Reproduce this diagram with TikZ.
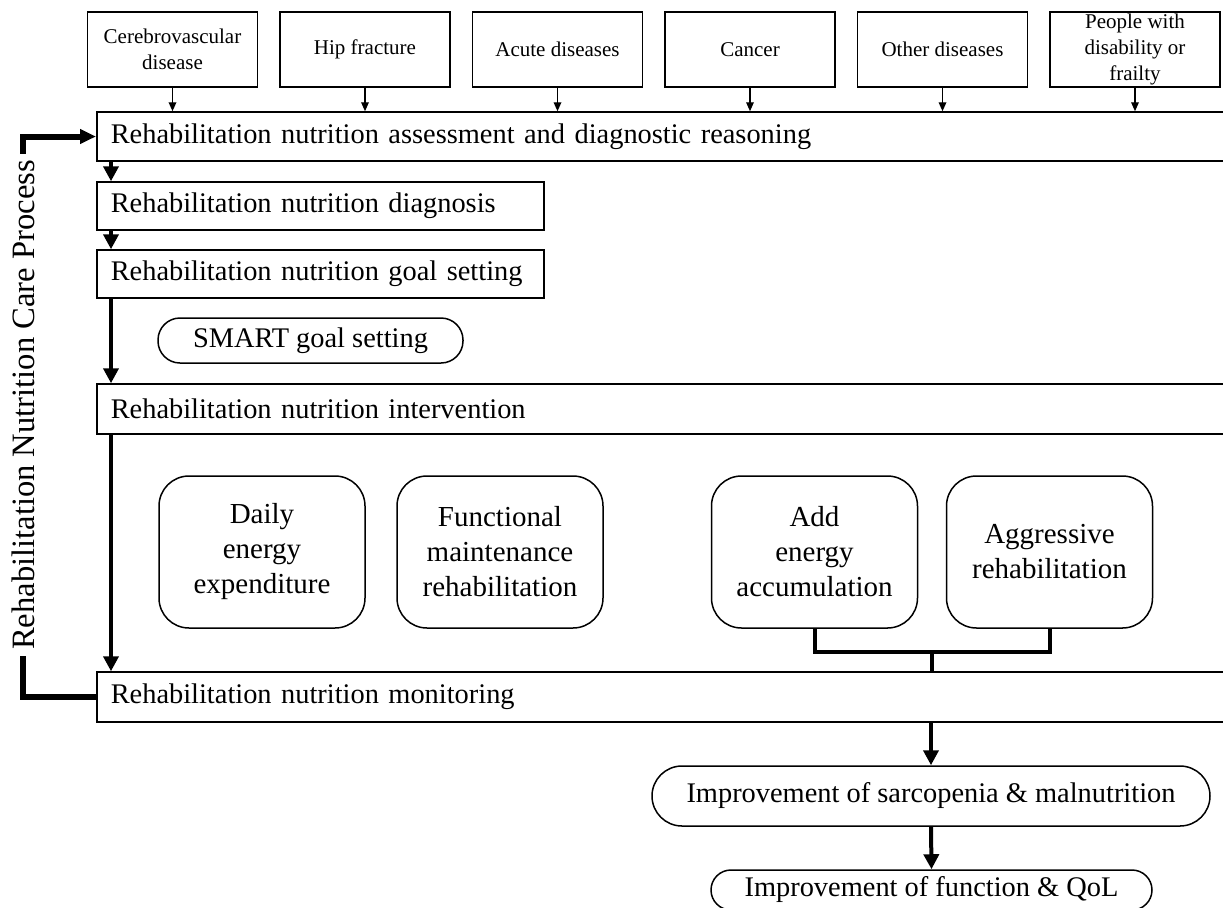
\documentclass[tikz,border=0pt]{standalone}
\usepackage{fontspec}
\setmainfont{Liberation Serif}
\usetikzlibrary{arrows.meta, positioning, calc}
\newcommand{\srcfont}{\fontsize{10.5}{12.8}\selectfont}
\newcommand{\barfont}{\fontsize{14.2}{17.5}\selectfont}
\newcommand{\cyclefont}{\fontsize{16.3}{18}\selectfont}
\tikzset{
  src/.style={rectangle, draw, line width=0.75pt, minimum width=85pt, minimum height=37.5pt,
              inner sep=1pt, align=center, font=\srcfont},
  bar/.style={rectangle, draw, line width=0.75pt, anchor=west, minimum height=24.5pt,
              text width=566pt, inner xsep=7pt, align=left, font=\barfont},
  subbar/.style={bar, text width=209.5pt, minimum height=24pt},
  pill/.style={rectangle, draw, line width=0.75pt, rounded corners=11pt, minimum height=22.5pt,
               align=center, font=\barfont},
  soft/.style={rectangle, draw, line width=0.75pt, rounded corners=15pt, minimum width=103pt,
               minimum height=76pt, align=center, font=\fontsize{14.5}{17.5}\selectfont},
  feed/.style={-{Triangle[length=4.5pt, width=3.8pt]}, line width=0.7pt},
  flow/.style={-{Triangle[length=7.5pt, width=7.5pt]}, line width=2pt},
  brace/.style={line width=2pt},
  loopline/.style={line width=3pt},
}

\begin{document}
\begin{tikzpicture}[x=0.5pt, y=-0.5pt]

\clip (0,0) rectangle (1223,907);

% Source conditions
\node[src] (cvd)    at (172.5,49.5) {Cerebrovascular\\disease};
\node[src] (hip)    at (365,49.5)   {Hip fracture};
\node[src] (acute)  at (557.5,49.5) {Acute diseases};
\node[src] (cancer) at (750,49.5)   {Cancer};
\node[src] (other)  at (942.5,49.5) {Other diseases};
\node[src] (frail)  at (1135,49.5)  {People with\\disability or\\frailty};

% Process steps
\node[bar] (assess) at (96,136.5) {\mbox{Rehabilitation nutrition assessment and diagnostic reasoning}};
\node[subbar] (diag) at (96,206) {\mbox{Rehabilitation nutrition diagnosis}};
\node[subbar] (goal) at (96,274) {\mbox{Rehabilitation nutrition goal setting}};
\node[pill, minimum width=152.5pt] (smart) at (310.5,340.5) {SMART goal setting};
\node[bar, minimum height=25pt] (interv) at (96,409) {\mbox{Rehabilitation nutrition intervention}};

% Intervention options
\node[soft] (daily) at (262,552)    {Daily\\energy\\expenditure};
\node[soft] (funct) at (500,552)    {Functional\\maintenance\\rehabilitation};
\node[soft] (addE)  at (814.5,552)  {Add\\energy\\accumulation};
\node[soft] (aggr)  at (1049.5,552) {Aggressive\\rehabilitation};

\node[bar, minimum height=25pt] (mon) at (96,697) {\mbox{Rehabilitation nutrition monitoring}};

% Outcomes
\node[pill, minimum width=279pt, minimum height=30pt, rounded corners=15pt] (impr1) at (931,796) {Improvement of sarcopenia \& malnutrition};
\node[pill, minimum width=220.5pt, minimum height=20pt, rounded corners=10pt] (impr2) at (931.5,890) {Improvement of function \& QoL};

% Inputs into assessment
\draw[feed] (cvd.south)    -- (cvd.south |- assess.north);
\draw[feed] (hip.south)    -- (hip.south |- assess.north);
\draw[feed] (acute.south)  -- (acute.south |- assess.north);
\draw[feed] (cancer.south) -- (cancer.south |- assess.north);
\draw[feed] (other.south)  -- (other.south |- assess.north);
\draw[feed] (frail.south)  -- (frail.south |- assess.north);

% Main flow on the left
\coordinate (spine) at (111,0);
\draw[flow] (assess.south -| spine) -- (diag.north -| spine);
\draw[flow] (diag.south -| spine)   -- (goal.north -| spine);
\draw[flow] (goal.south -| spine)   -- (interv.north -| spine);
\draw[flow] (interv.south -| spine) -- (mon.north -| spine);

% Care process loop
\node[rotate=90, fill=white, inner xsep=3pt, inner ysep=0pt, font=\cyclefont] (cycle) at (23,405) {Rehabilitation Nutrition Care Process};
\draw[loopline] (mon.west) -| (cycle.west);
\draw[loopline, -{Triangle[length=8pt, width=7pt]}] (cycle.east) |- (assess.west);

% Bracket joining the aggressive options
\draw[brace] (addE.south) -- ++(0,23) -| (aggr.south);
\coordinate (join) at ($(addE.south)!0.5!(aggr.south) + (0,23)$);
\draw[brace] (join) -- (join |- mon.north);

% Outcome arrows
\draw[flow] (mon.south -| impr1.north) -- (impr1.north);
\draw[flow] (impr1.south) -- (impr2.north);

\end{tikzpicture}
\end{document}
